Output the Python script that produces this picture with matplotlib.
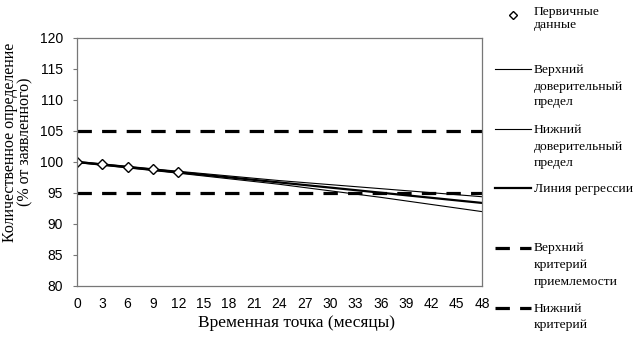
import numpy as np
import matplotlib.pyplot as plt
from matplotlib.lines import Line2D

# данные
t_data = [0, 3, 6, 9, 12]
y_data = [100.0, 99.6, 99.2, 98.8, 98.4]

t_line = [0, 12, 24, 36, 48]
y_upper = [100.1, 98.5, 97.0, 95.7, 94.4]
y_regr = [100.0, 98.35, 96.7, 95.05, 93.4]
y_lower = [99.9, 98.2, 96.4, 94.3, 92.0]

crit_hi = 105
crit_lo = 95

x_ticks = list(range(0, 49, 3))
y_ticks = list(range(80, 121, 5))

W, H = 635, 343
fig = plt.figure(figsize=(W / 100, H / 100), dpi=100)
ax = fig.add_axes([77 / W, 1 - 286 / H, (482 - 77) / W, (286 - 38) / H])

dash = (4.5, 3.2)
ax.plot([0, 48], [crit_hi, crit_hi], color="black", lw=2.3, dashes=dash)
ax.plot([0, 48], [crit_lo, crit_lo], color="black", lw=2.3, dashes=dash)
ax.plot(t_line, y_upper, color="black", lw=0.8)
ax.plot(t_line, y_lower, color="black", lw=0.8)
ax.plot(t_line, y_regr, color="black", lw=1.6)
ax.plot(t_data, y_data, linestyle="none", marker="D", markersize=5,
        markerfacecolor="white", markeredgecolor="black", markeredgewidth=1.0)

ax.set_xlim(0, 48)
ax.set_ylim(80, 120)
ax.set_xticks(x_ticks)
ax.set_yticks(y_ticks)
ax.tick_params(axis="x", length=0, pad=8, labelsize=10)
ax.tick_params(axis="y", length=3, width=0.8, color="#777777", labelsize=10, pad=7)
for lab in ax.get_xticklabels() + ax.get_yticklabels():
    lab.set_family("Liberation Sans")
for s in ax.spines.values():
    s.set_color("#777777")
    s.set_linewidth(0.9)

def fy(y):
    return 1 - y / H

serif = "Liberation Serif"
# подписи осей
fig.text(296 / W, fy(323), "Временная точка (месяцы)", family=serif, fontsize=12.5,
         ha="center", va="center")
fig.text(17.5 / W, fy(142), "Количественное определение\n(% от заявленного)", family=serif,
         fontsize=11.5, rotation=90, ha="center", va="center", multialignment="center",
         linespacing=0.95)

# легенда справа
entries = [
    ("marker", 15, [(12, "Первичные"), (25, "данные")]),
    ("thin", 69, [(70, "Верхний"), (87, "доверительный"), (102, "предел")]),
    ("thin", 129, [(130, "Нижний"), (147, "доверительный"), (163, "предел")]),
    ("thick", 188, [(189, "Линия регрессии")]),
    ("dash", 248, [(248, "Верхний"), (265, "критерий"), (282, "приемлемости")]),
    ("dash", 308, [(309, "Нижний"), (325, "критерий")]),
]
for kind, hy, lines in entries:
    if kind == "marker":
        fig.add_artist(Line2D([513 / W], [fy(hy)], marker="D", markersize=4,
                              markerfacecolor="white", markeredgecolor="black",
                              markeredgewidth=1.0, linestyle="none"))
    elif kind == "dash":
        fig.add_artist(Line2D([495 / W, 531 / W], [fy(hy), fy(hy)], color="black",
                              lw=2.3, dashes=(4.5, 3.2)))
    else:
        fig.add_artist(Line2D([495 / W, 531 / W], [fy(hy), fy(hy)], color="black",
                              lw=0.8 if kind == "thin" else 1.6))
    for ty, txt in lines:
        fig.text(534 / W, fy(ty), txt, family=serif, fontsize=9.7, va="center", ha="left")

fig.savefig("out.png", dpi=100)
